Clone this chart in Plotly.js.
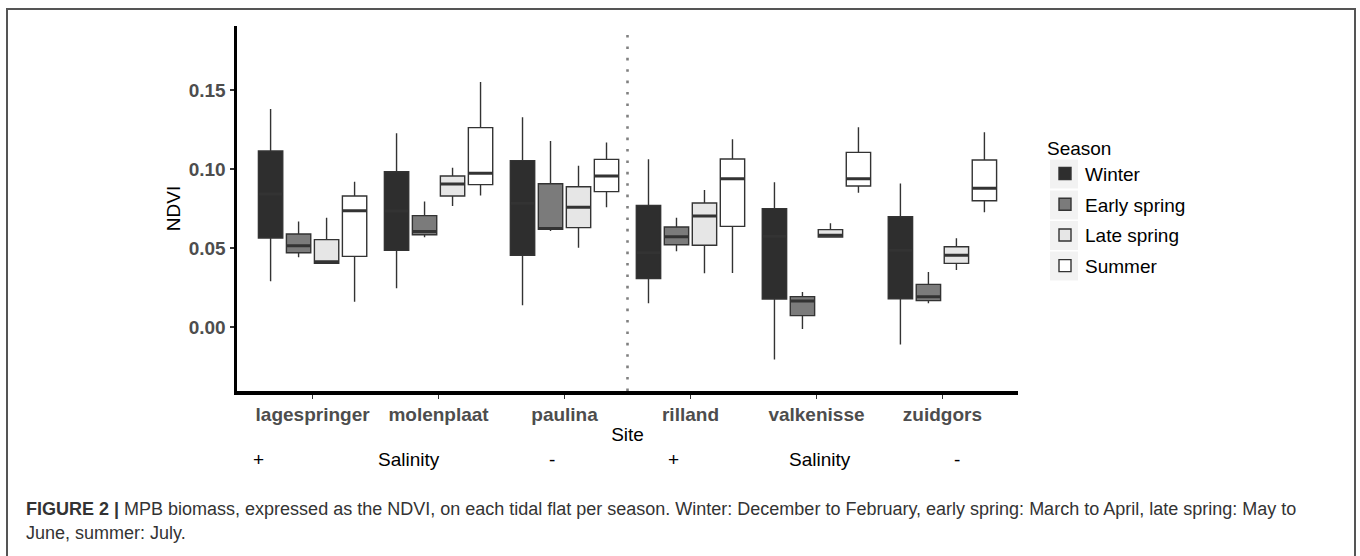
<!DOCTYPE html>
<html>
<head>
<meta charset="utf-8">
<script src="https://cdn.plot.ly/plotly-3.0.1.min.js"></script>
<style>
  html, body { margin: 0; padding: 0; background: #fff; }
  #chart { width: 1360px; height: 556px; }
</style>
</head>
<body>
<div id="chart"></div>
<script>
// ---- data ----
var sites = ['lagespringer', 'molenplaat', 'paulina', 'rilland', 'valkenisse', 'zuidgors'];
var seasons = ['Winter', 'Early spring', 'Late spring', 'Summer'];

var winterLower  = [0.0290, 0.0245, 0.0137, 0.0150, -0.0205, -0.0110];
var winterQ1     = [0.0563, 0.0485, 0.0454, 0.0306, 0.0177, 0.0179];
var winterMedian = [0.0842, 0.0734, 0.0783, 0.0470, 0.0574, 0.0485];
var winterQ3     = [0.1114, 0.0983, 0.1053, 0.0770, 0.0749, 0.0698];
var winterUpper  = [0.1380, 0.1226, 0.1327, 0.1061, 0.0916, 0.0909];

var earlyLower  = [0.0441, 0.0568, 0.0608, 0.0479, -0.0013, 0.0150];
var earlyQ1     = [0.0470, 0.0584, 0.0618, 0.0521, 0.0072, 0.0167];
var earlyMedian = [0.0515, 0.0605, 0.0624, 0.0572, 0.0165, 0.0192];
var earlyQ3     = [0.0589, 0.0705, 0.0907, 0.0633, 0.0192, 0.0270];
var earlyUpper  = [0.0667, 0.0795, 0.1177, 0.0692, 0.0222, 0.0348];

var lateLower  = [0.0403, 0.0766, 0.0502, 0.0340, 0.0570, 0.0361];
var lateQ1     = [0.0403, 0.0829, 0.0629, 0.0517, 0.0570, 0.0403];
var lateMedian = [0.0413, 0.0905, 0.0758, 0.0703, 0.0580, 0.0454];
var lateQ3     = [0.0553, 0.0956, 0.0888, 0.0785, 0.0616, 0.0508];
var lateUpper  = [0.0692, 0.1008, 0.1021, 0.0867, 0.0656, 0.0561];

var summerLower  = [0.0160, 0.0833, 0.0758, 0.0342, 0.0850, 0.0726];
var summerQ1     = [0.0447, 0.0901, 0.0857, 0.0637, 0.0892, 0.0799];
var summerMedian = [0.0736, 0.0973, 0.0956, 0.0939, 0.0939, 0.0878];
var summerQ3     = [0.0829, 0.1262, 0.1061, 0.1063, 0.1105, 0.1057];
var summerUpper  = [0.0920, 0.1550, 0.1167, 0.1188, 0.1264, 0.1232];

var yTickVals = [0, 0.05, 0.10, 0.15];
var salinityLabels = ['+', 'Salinity', '-', '+', 'Salinity', '-'];
var captionLine1 = '<b>FIGURE 2 |</b> MPB biomass, expressed as the NDVI, on each tidal flat per season. Winter: December to February, early spring: March to April, late spring: May to';
var captionLine2 = 'June, summer: July.';

// ---- styling ----
var fills = ['#2e2e2e', '#7b7b7b', '#e6e6e6', '#ffffff'];
var outline = '#333333';
var FONT = 'Liberation Sans, Arial, Helvetica, sans-serif';

var stats = [
  [winterLower, winterQ1, winterMedian, winterQ3, winterUpper],
  [earlyLower, earlyQ1, earlyMedian, earlyQ3, earlyUpper],
  [lateLower, lateQ1, lateMedian, lateQ3, lateUpper],
  [summerLower, summerQ1, summerMedian, summerQ3, summerUpper]
];

var traces = [];
seasons.forEach(function (s, i) {
  var st = stats[i];
  traces.push({
    type: 'box', name: s, x: sites,
    lowerfence: st[0], q1: st[1], median: st[2], q3: st[3], upperfence: st[4],
    fillcolor: fills[i], line: { color: outline, width: 1.4 },
    whiskerwidth: 0, boxpoints: false,
    alignmentgroup: 'g', offsetgroup: 'o' + i,
    legendgroup: 'l' + i, hoverinfo: 'skip'
  });
});
// thicker median bars (ggplot style), same positions/groups
seasons.forEach(function (s, i) {
  var st = stats[i];
  traces.push({
    type: 'box', name: s + ' median', x: sites,
    lowerfence: st[2], q1: st[2], median: st[2], q3: st[2], upperfence: st[2],
    fillcolor: 'rgba(0,0,0,0)', line: { color: outline, width: 3 },
    whiskerwidth: 0, boxpoints: false,
    alignmentgroup: 'g', offsetgroup: 'o' + i,
    showlegend: false, hoverinfo: 'skip'
  });
});

// pixel helpers for layout-only placement
var W = 1360, H = 556, L = 237, R = 1018, T = 26, B = 391;
function px(x) { return (x - L) / (R - L); }
function py(y) { return (B - y) / (B - T); }

var salinityX = [258, 409, 552, 673, 820, 957];
var annotations = salinityLabels.map(function (t, i) {
  return { text: t, xref: 'paper', yref: 'paper', x: px(salinityX[i]), y: py(459),
           xanchor: 'center', yanchor: 'middle', showarrow: false,
           font: { family: FONT, size: 19, color: '#000' } };
});
annotations.push({ text: captionLine1, xref: 'paper', yref: 'paper', x: px(24), y: py(509),
  xanchor: 'left', yanchor: 'middle', showarrow: false, align: 'left',
  font: { family: FONT, size: 18, color: '#333' } });
annotations.push({ text: captionLine2, xref: 'paper', yref: 'paper', x: px(24), y: py(533),
  xanchor: 'left', yanchor: 'middle', showarrow: false, align: 'left',
  font: { family: FONT, size: 18, color: '#333' } });

// light grey legend key cells (ggplot legend.key background)
var keyCenters = [174, 205, 235.5, 266];
var keyShapes = keyCenters.map(function (yc) {
  return { type: 'rect', xref: 'paper', yref: 'paper',
           x0: px(1050), x1: px(1078), y0: py(yc + 14.5), y1: py(yc - 14.5),
           line: { width: 0 }, fillcolor: '#f2f2f2', layer: 'below' };
});

var layout = {
  width: W, height: H,
  margin: { l: L, r: W - R, t: T, b: H - B, pad: 0 },
  paper_bgcolor: '#fff', plot_bgcolor: 'rgba(0,0,0,0)',
  boxmode: 'group', boxgap: 0.111, boxgroupgap: 0.13,
  hovermode: false,
  font: { family: FONT, size: 19, color: '#000' },
  xaxis: {
    type: 'category', categoryarray: sites, range: [-0.6, 5.6],
    showline: true, linecolor: '#000', linewidth: 3.5,
    ticks: 'outside', ticklen: 4, tickwidth: 1.2, tickcolor: '#333',
    tickfont: { family: FONT, size: 19, color: '#4d4d4d', weight: 'bold' },
    showgrid: false, zeroline: false,
    title: { text: 'Site', font: { family: FONT, size: 19, color: '#000' }, standoff: 4 }
  },
  yaxis: {
    range: [-0.0405, 0.1905], tickvals: yTickVals, tickformat: '.2f',
    showline: true, linecolor: '#000', linewidth: 3.5,
    ticks: 'outside', ticklen: 4, tickwidth: 1.2, tickcolor: '#333',
    tickfont: { family: FONT, size: 19, color: '#4d4d4d', weight: 'bold' },
    showgrid: false, zeroline: false,
    title: { text: 'NDVI', font: { family: FONT, size: 19, color: '#000' }, standoff: 4 }
  },
  legend: {
    x: px(1045), y: py(130), xanchor: 'left', yanchor: 'top',
    title: { text: 'Season', font: { family: FONT, size: 19, color: '#000' } },
    font: { family: FONT, size: 19, color: '#000' },
    tracegroupgap: 3, bgcolor: 'rgba(0,0,0,0)'
  },
  shapes: [
    { type: 'line', xref: 'x', yref: 'paper', x0: 2.5, x1: 2.5, y0: 0, y1: py(32),
      line: { color: '#808080', width: 2.6, dash: '2.6px,8.8px' } },
    { type: 'rect', xref: 'paper', yref: 'paper', x0: px(7), x1: px(1355), y0: py(600), y1: py(9),
      line: { color: '#555', width: 2 }, fillcolor: 'rgba(0,0,0,0)', layer: 'below' }
  ].concat(keyShapes),
  annotations: annotations,
  showlegend: true
};

Plotly.newPlot('chart', traces, layout, { displayModeBar: false, staticPlot: true });
</script>
</body>
</html>
